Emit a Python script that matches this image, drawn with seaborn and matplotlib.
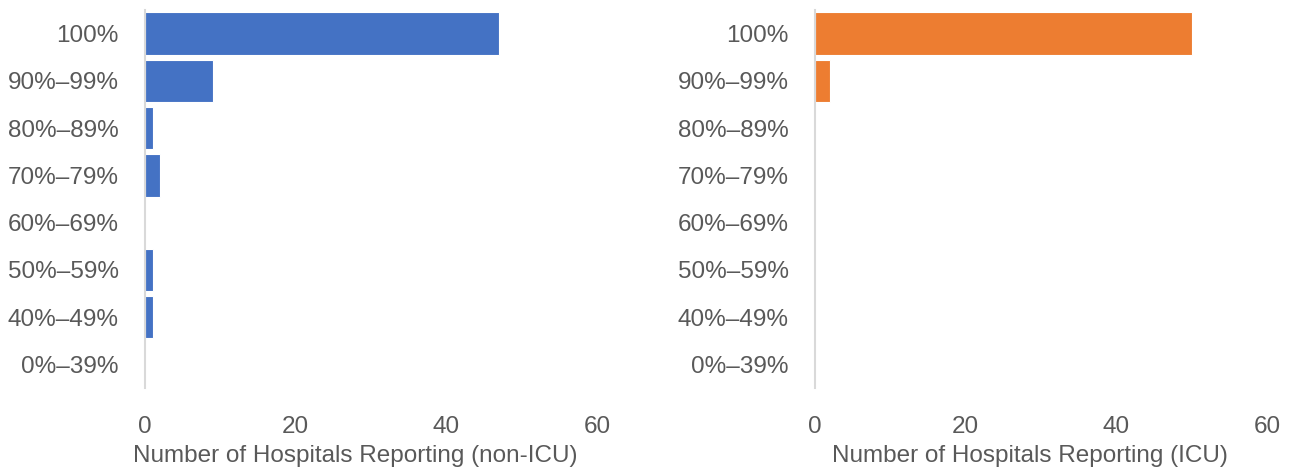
import pandas as pd
import seaborn as sns
import matplotlib.pyplot as plt

categories = ['100%', '90%–99%', '80%–89%', '70%–79%', '60%–69%', '50%–59%', '40%–49%', '0%–39%']
non_icu = [47, 9, 1, 2, 0, 1, 1, 0]
icu = [50, 2, 0, 0, 0, 0, 0, 0]

sns.set_theme(style='white')
plt.rcParams['font.family'] = ['Liberation Sans', 'DejaVu Sans']

grey = '#595959'
fig = plt.figure(figsize=(12.96, 4.72), dpi=100)
ax1 = fig.add_axes([0.1119, 0.178, 0.3487, 0.801])
ax2 = fig.add_axes([0.6289, 0.178, 0.3487, 0.801])

panels = [
    (ax1, non_icu, '#4472C4', 'Number of Hospitals Reporting (non-ICU)', 0.465),
    (ax2, icu, '#ED7D31', 'Number of Hospitals Reporting (ICU)', 0.476),
]

for ax, values, color, label, lx in panels:
    df = pd.DataFrame({'range': categories, 'count': values})
    sns.barplot(data=df, x='count', y='range', orient='h', color=color,
                saturation=1, width=0.9, ax=ax)
    ax.set_xlim(0, 60)
    ax.set_ylim(7.5, -0.5)
    ax.set_xticks([0, 20, 40, 60])
    ax.set_ylabel('')
    ax.set_xlabel(label, fontsize=17.5, color=grey)
    ax.xaxis.set_label_coords(lx, -0.15)
    ax.tick_params(axis='x', labelsize=17.5, colors=grey, length=0, pad=20)
    ax.tick_params(axis='y', labelsize=17.5, colors=grey, length=0, pad=19)
    for side in ['top', 'right', 'bottom']:
        ax.spines[side].set_visible(False)
    ax.spines['left'].set_color('#d9d9d9')
    ax.spines['left'].set_linewidth(1.5)
    for patch in ax.patches:
        patch.set_edgecolor('white')
        patch.set_linewidth(0.8)

fig.savefig('out.png', dpi=100)
